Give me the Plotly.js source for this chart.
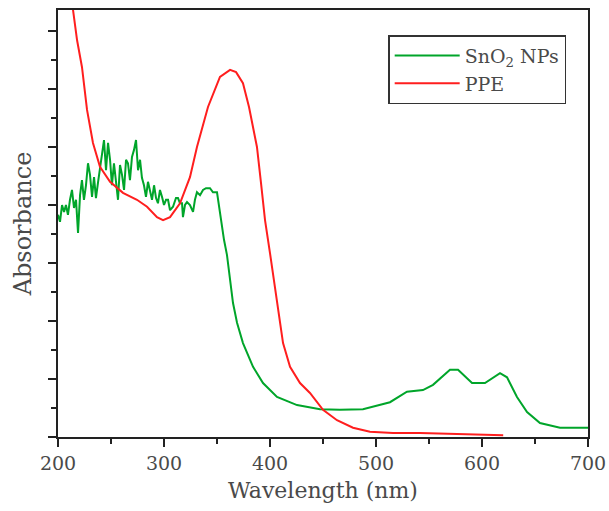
<!DOCTYPE html>
<html>
<head>
<meta charset="utf-8">
<script src="https://cdn.plot.ly/plotly-3.0.1.min.js"></script>
<style>html,body{margin:0;padding:0;background:#fff;}#chart{width:609px;height:511px;}</style>
</head>
<body>
<div id="chart"></div>
<script>
// SnO2 NPs absorbance (arbitrary units) vs wavelength (nm)
const sno2Wavelength = [200,201.9,203.8,205.7,207.5,209.4,211.3,213.2,215.1,217.0,218.9,220.8,222.6,224.5,226.4,228.3,230.2,232.1,234.0,235.8,237.7,239.6,241.5,243.4,245.3,247.2,249.1,250.9,252.8,254.7,256.6,258.5,260.4,262.3,264.2,266.0,267.9,269.8,271.7,273.6,275.5,277.4,279.2,281.1,283.0,284.9,286.8,288.7,290.6,292.5,294.3,296.2,298.1,300.0,301.9,303.8,305.7,308.5,311.3,313.2,315.1,317.0,317.9,319.8,321.7,324.5,327.4,329.2,331.1,334.0,336.8,339.6,343.4,346.2,350.0,351.0,352.8,354.7,356.6,359.4,362.3,365.1,368.9,374.5,384.0,393.4,406.6,425.5,447.2,466.0,487.7,503.8,513.2,529.2,544.3,553.8,569.8,577.4,590.6,602.8,617.0,623.6,633.0,642.5,654.7,673.6,700];
const sno2Absorbance = [3.83,3.71,4.00,3.88,4.00,3.83,4.09,4.26,3.95,4.09,3.52,4.17,4.43,4.09,4.34,4.72,4.52,4.14,4.48,4.12,4.38,4.60,4.83,5.12,4.60,5.07,4.78,4.34,4.72,4.43,4.09,4.69,4.52,4.26,4.78,4.72,4.43,4.83,4.95,5.12,4.60,4.78,4.47,4.34,4.14,4.40,4.22,4.09,4.34,4.12,4.03,4.26,4.14,4.00,4.09,4.09,3.91,3.97,4.12,4.12,4.03,4.03,3.79,4.00,4.05,4.00,3.88,4.09,4.22,4.17,4.26,4.29,4.29,4.22,4.22,4.09,3.91,3.66,3.40,3.14,2.76,2.31,1.97,1.62,1.21,0.93,0.69,0.55,0.48,0.47,0.48,0.55,0.60,0.78,0.81,0.90,1.16,1.16,0.93,0.93,1.10,1.03,0.69,0.43,0.24,0.16,0.16];

// PPE absorbance (arbitrary units) vs wavelength (nm)
const ppeWavelength = [212.0,214.2,218.0,222.6,227.4,233.0,239.6,249.1,261.3,274.5,284.0,293.4,299.1,305.7,315.1,324.5,331.1,341.5,352.8,362.3,368.0,374.5,380.2,387.7,391.5,395.3,400.0,402.8,407.5,412.3,418.9,428.3,437.7,450.0,463.2,478.3,494.3,516.0,541.5,588.7,620.0];
const ppeAbsorbance = [7.90,7.36,6.84,6.38,5.64,5.07,4.66,4.40,4.21,4.09,3.97,3.79,3.74,3.79,4.03,4.48,5.00,5.69,6.21,6.33,6.29,6.10,5.69,5.00,4.38,3.74,3.17,2.83,2.24,1.62,1.21,0.93,0.76,0.47,0.29,0.16,0.09,0.07,0.07,0.05,0.03];

const xTickValues = [200,300,400,500,600,700];
const seriesNames = ['SnO<sub>2</sub> NPs','PPE'];

const FONT = 'DejaVu Serif, Liberation Serif, serif';
const TEXT = '#4a4a4a';

const traces = [
  {x: sno2Wavelength, y: sno2Absorbance, name: seriesNames[0], type: 'scatter', mode: 'lines',
   line: {color: '#00a52a', width: 2}},
  {x: ppeWavelength, y: ppeAbsorbance, name: seriesNames[1], type: 'scatter', mode: 'lines',
   line: {color: '#ff1e1e', width: 2}}
];

const layout = {
  width: 609, height: 511,
  margin: {l: 58, r: 21, t: 10, b: 74},
  paper_bgcolor: '#fff', plot_bgcolor: '#fff',
  showlegend: true,
  legend: {x: 0.623, y: 0.941, xanchor: 'left', yanchor: 'top',
    bgcolor: '#fff', bordercolor: '#333', borderwidth: 1.5,
    font: {family: FONT, size: 19, color: TEXT}, itemwidth: 65, tracegroupgap: 0},
  xaxis: {
    range: [200, 700], tickvals: xTickValues, ticktext: xTickValues.map(String),
    showgrid: false, zeroline: false, showline: true, mirror: true,
    linecolor: '#222', linewidth: 2, ticks: 'outside', ticklen: 8, tickwidth: 2, tickcolor: '#222',
    minor: {dtick: 50, tick0: 0, ticks: 'outside', ticklen: 5, tickwidth: 2, tickcolor: '#222', showgrid: false},
    tickfont: {family: FONT, size: 19, color: TEXT},
    title: {text: 'Wavelength (nm)', font: {family: FONT, size: 22, color: TEXT}, standoff: 10},
    automargin: false
  },
  yaxis: {
    range: [0, 7.362], dtick: 1, tick0: 0,
    showticklabels: false,
    showgrid: false, zeroline: false, showline: true, mirror: true,
    linecolor: '#222', linewidth: 2, ticks: 'outside', ticklen: 8, tickwidth: 2, tickcolor: '#222',
    minor: {dtick: 0.5, tick0: 0, ticks: 'outside', ticklen: 5, tickwidth: 2, tickcolor: '#222', showgrid: false},
    title: {text: 'Absorbance', font: {family: FONT, size: 24, color: TEXT}, standoff: 10},
    automargin: false
  }
};

Plotly.newPlot('chart', traces, layout, {staticPlot: true, displayModeBar: false});
</script>
</body>
</html>
